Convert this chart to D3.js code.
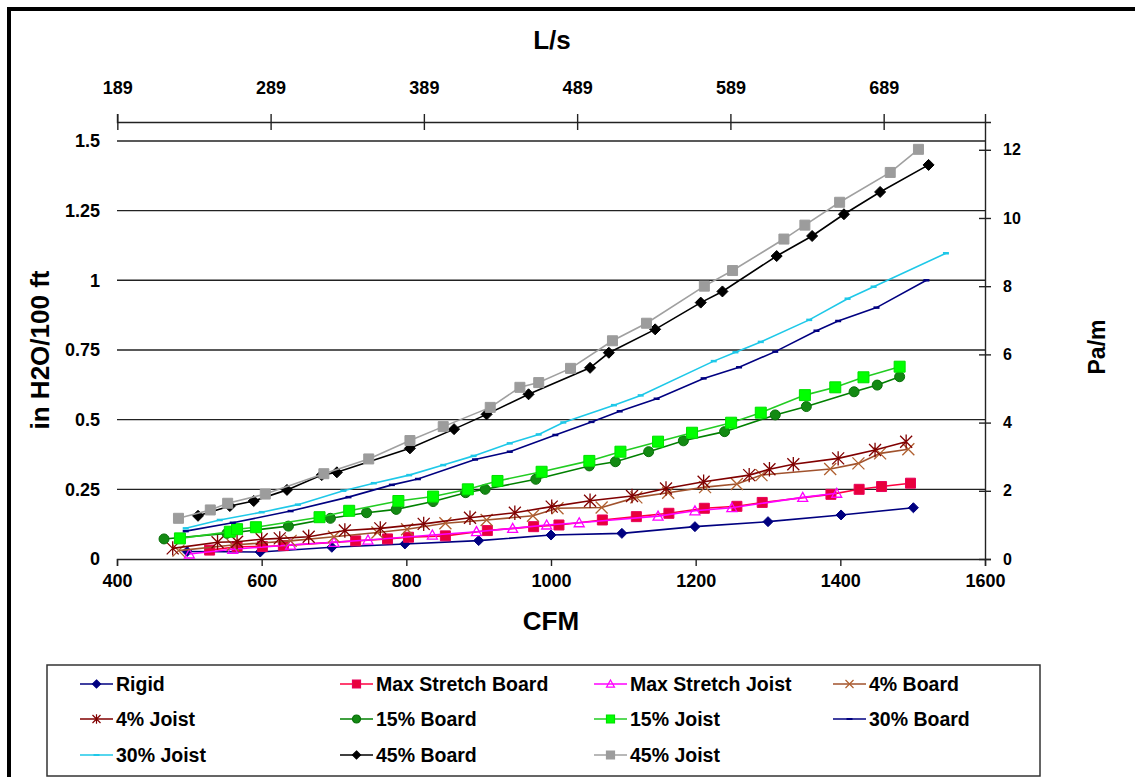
<!DOCTYPE html>
<html>
<head>
<meta charset="utf-8">
<script src="https://cdn.jsdelivr.net/npm/d3@7"></script>
<style>
  body { margin: 0; background: #fff; }
  svg { display: block; }
  .lbl { font-family: "Liberation Sans", Arial, sans-serif; font-weight: bold; }
</style>
</head>
<body>
<svg id="chart" width="1135" height="777"></svg>
<script>
// Friction loss (in. H2O per 100 ft) versus airflow (CFM) for each duct installation
const rigid            = [[497,0.027],[598,0.025],[697,0.042],[798,0.054],[900,0.066],[1000,0.086],[1098,0.092],[1199,0.116],[1300,0.134],[1401,0.158],[1501,0.184]];
const maxStretchBoard  = [[528,0.032],[566,0.044],[601,0.045],[630,0.048],[730,0.065],[774,0.072],[803,0.078],[854,0.083],[912,0.102],[976,0.116],[1011,0.122],[1071,0.140],[1118,0.152],[1163,0.164],[1212,0.182],[1257,0.189],[1292,0.203],[1387,0.232],[1426,0.250],[1457,0.260],[1497,0.272]];
const maxStretchJoist  = [[500,0.018],[560,0.035],[640,0.050],[700,0.060],[747,0.068],[836,0.086],[897,0.098],[947,0.110],[994,0.122],[1039,0.130],[1148,0.154],[1199,0.173],[1250,0.184],[1348,0.221],[1395,0.236]];
const board4           = [[485,0.030],[560,0.050],[640,0.065],[700,0.080],[760,0.095],[801,0.107],[854,0.128],[911,0.140],[975,0.155],[1009,0.182],[1070,0.185],[1118,0.221],[1162,0.238],[1213,0.258],[1257,0.269],[1291,0.301],[1386,0.323],[1425,0.343],[1455,0.379],[1494,0.394]];
const joist4           = [[477,0.038],[539,0.060],[566,0.062],[600,0.071],[625,0.074],[665,0.080],[715,0.102],[764,0.110],[824,0.126],[888,0.148],[950,0.166],[1001,0.188],[1054,0.209],[1112,0.226],[1159,0.253],[1211,0.277],[1274,0.301],[1302,0.322],[1335,0.340],[1397,0.361],[1448,0.391],[1491,0.421]];
const board15          = [[465,0.072],[552,0.092],[637,0.118],[695,0.146],[745,0.166],[786,0.178],[837,0.206],[882,0.238],[909,0.250],[979,0.286],[1053,0.334],[1089,0.349],[1135,0.385],[1183,0.424],[1240,0.457],[1310,0.517],[1353,0.547],[1419,0.600],[1451,0.624],[1482,0.654]];
const joist15          = [[487,0.074],[556,0.098],[566,0.107],[592,0.114],[680,0.150],[721,0.173],[789,0.208],[837,0.224],[885,0.250],[926,0.280],[987,0.313],[1053,0.352],[1096,0.385],[1148,0.421],[1195,0.453],[1249,0.489],[1290,0.525],[1351,0.588],[1393,0.616],[1432,0.652],[1482,0.690]];
const board30          = [[495,0.100],[560,0.130],[640,0.172],[720,0.222],[780,0.266],[816,0.287],[895,0.357],[943,0.385],[1006,0.445],[1056,0.492],[1095,0.530],[1146,0.575],[1211,0.648],[1260,0.688],[1310,0.744],[1367,0.819],[1397,0.854],[1450,0.902],[1519,1.000]];
const joist30          = [[495,0.110],[542,0.140],[600,0.168],[650,0.195],[713,0.245],[755,0.272],[804,0.301],[851,0.337],[893,0.370],[943,0.415],[983,0.447],[1017,0.490],[1087,0.552],[1124,0.587],[1225,0.710],[1255,0.742],[1290,0.779],[1357,0.858],[1410,0.934],[1446,0.977],[1546,1.097]];
const board45          = [[512,0.155],[556,0.190],[589,0.208],[635,0.248],[683,0.301],[704,0.311],[805,0.397],[866,0.466],[911,0.519],[969,0.591],[1054,0.686],[1080,0.740],[1144,0.824],[1207,0.920],[1237,0.960],[1312,1.087],[1361,1.159],[1405,1.237],[1455,1.317],[1522,1.414]];
const joist45          = [[485,0.146],[529,0.176],[553,0.200],[605,0.233],[686,0.306],[748,0.359],[805,0.425],[851,0.475],[916,0.544],[957,0.616],[983,0.633],[1027,0.684],[1085,0.783],[1132,0.846],[1212,0.979],[1251,1.035],[1322,1.148],[1351,1.198],[1399,1.280],[1469,1.387],[1508,1.470]];

// Axis tick values
const cfmTicks  = [400, 600, 800, 1000, 1200, 1400, 1600];
const inTicks   = [0, 0.25, 0.5, 0.75, 1, 1.25, 1.5];
const paTicks   = [0, 2, 4, 6, 8, 10, 12];
const lsTicks   = [189, 289, 389, 489, 589, 689];

const seriesNames = ["Rigid","Max Stretch Board","Max Stretch Joist","4% Board","4% Joist","15% Board","15% Joist","30% Board","30% Joist","45% Board","45% Joist"];

// unit conversions for the secondary axes
const LS_PER_CFM = 0.471947;
const PAM_PER_INH2O100FT = 8.1725;

const series = [
  {name: seriesNames[0],  data: rigid,           line: "#000080", marker: "diamond",  fill: "#000080", stroke: "#000080", size: 5},
  {name: seriesNames[1],  data: maxStretchBoard, line: "#FF0040", marker: "square",   fill: "#E8003C", stroke: "#E8005A", size: 5},
  {name: seriesNames[2],  data: maxStretchJoist, line: "#FF00FF", marker: "triangle", fill: "none",    stroke: "#FF00FF", size: 5},
  {name: seriesNames[3],  data: board4,          line: "#A0522D", marker: "x",        fill: "none",    stroke: "#B06030", size: 6},
  {name: seriesNames[4],  data: joist4,          line: "#800000", marker: "star",     fill: "none",    stroke: "#800000", size: 6},
  {name: seriesNames[5],  data: board15,         line: "#008000", marker: "circle",   fill: "#138A13", stroke: "#0A700A", size: 5},
  {name: seriesNames[6],  data: joist15,         line: "#22CC22", marker: "square",   fill: "#00FF00", stroke: "#00E000", size: 5.5},
  {name: seriesNames[7],  data: board30,         line: "#000080", marker: "dash",     fill: "none",    stroke: "#000080", size: 3},
  {name: seriesNames[8],  data: joist30,         line: "#1EC8E8", marker: "dash",     fill: "none",    stroke: "#1EC8E8", size: 3},
  {name: seriesNames[9],  data: board45,         line: "#000000", marker: "diamond",  fill: "#000000", stroke: "#000000", size: 5.5},
  {name: seriesNames[10], data: joist45,         line: "#A0A0A0", marker: "square",   fill: "#9C9C9C", stroke: "#9C9C9C", size: 5}
];

const svg = d3.select("#chart");

// plot frame
const plot = {left: 117, right: 985, top: 122, bottom: 559};
const x = d3.scaleLinear().domain([400, 1600]).range([plot.left, plot.right]);
const y = d3.scaleLinear().domain([0, 1.568]).range([plot.bottom, plot.top]);
const xTop = d3.scaleLinear().domain([400 * LS_PER_CFM, 1600 * LS_PER_CFM]).range([plot.left, plot.right]);
const yRight = d3.scaleLinear().domain([0, 1.568 * PAM_PER_INH2O100FT]).range([plot.bottom, plot.top]);

// outer frame of the figure
svg.append("rect").attr("x", 9).attr("y", 9).attr("width", 1140).attr("height", 790)
  .attr("fill", "#fff").attr("stroke", "#000").attr("stroke-width", 4);

// horizontal gridlines
svg.append("g").selectAll("line").data(inTicks.filter(d => d > 0)).join("line")
  .attr("x1", plot.left).attr("x2", plot.right)
  .attr("y1", d => y(d)).attr("y2", d => y(d))
  .attr("stroke", "#222").attr("stroke-width", 1.4);

// bottom axis
const gx = svg.append("g").attr("transform", `translate(0,${plot.bottom})`)
  .call(d3.axisBottom(x).tickValues(cfmTicks).tickSize(7).tickPadding(8).tickFormat(d3.format("d")));
// top axis (L/s)
const gt = svg.append("g").attr("transform", `translate(0,${plot.top})`)
  .call(d3.axisTop(xTop).tickValues(lsTicks).tickSize(8).tickPadding(20).tickFormat(d3.format("d")));
gt.selectAll(".tick line").attr("y2", 8).attr("y1", -8);
// left axis: labels only
const gl = svg.append("g").attr("transform", `translate(${plot.left},0)`)
  .call(d3.axisLeft(y).tickValues(inTicks).tickSize(0).tickPadding(17).tickFormat(d => d3.format("")(d)));
gl.select(".domain").remove();
// right axis (Pa/m)
const gr = svg.append("g").attr("transform", `translate(${plot.right},0)`)
  .call(d3.axisRight(yRight).tickValues(paTicks).tickSize(6).tickPadding(12).tickFormat(d3.format("d")));
gr.selectAll(".tick line").attr("x1", -6).attr("x2", 6);

[gx, gt, gr].forEach(g => {
  g.select(".domain").attr("stroke", "#222").attr("stroke-width", 1.4);
  g.selectAll(".tick line").attr("stroke", "#222").attr("stroke-width", 1.4);
});
[gx, gt, gl].forEach(g => g.selectAll("text").attr("class", "lbl").attr("font-size", 18).attr("fill", "#000"));
gr.selectAll("text").attr("class", "lbl").attr("font-size", 16).attr("fill", "#000");

// axis titles
svg.append("text").attr("class", "lbl").attr("x", 552).attr("y", 49).attr("text-anchor", "middle")
  .attr("font-size", 26).text("L/s");
svg.append("text").attr("class", "lbl").attr("x", 551).attr("y", 630).attr("text-anchor", "middle")
  .attr("font-size", 26).text("CFM");
svg.append("text").attr("class", "lbl").attr("transform", "translate(49,350) rotate(-90)")
  .attr("text-anchor", "middle").attr("font-size", 26).text("in H2O/100 ft");
svg.append("text").attr("class", "lbl").attr("transform", "translate(1105,347) rotate(-90)")
  .attr("text-anchor", "middle").attr("font-size", 23).text("Pa/m");

// marker shapes
function markerPath(kind, s) {
  switch (kind) {
    case "diamond":  return `M0,${-s}L${s},0L0,${s}L${-s},0Z`;
    case "square":   return `M${-s},${-s}H${s}V${s}H${-s}Z`;
    case "triangle": return `M0,${-s}L${s},${s * 0.8}L${-s},${s * 0.8}Z`;
    case "circle":   return d3.symbol(d3.symbolCircle, Math.PI * s * s)();
    case "x":        return `M${-s},${-s}L${s},${s}M${-s},${s}L${s},${-s}`;
    case "star":     return `M${-s},${-s}L${s},${s}M${-s},${s}L${s},${-s}M0,${-s * 1.2}V${s * 1.2}`;
    case "dash":     return `M${-s},0H${s}`;
  }
}

const line = d3.line().x(d => x(d[0])).y(d => y(d[1]));
const gSeries = svg.append("g");
series.forEach(s => {
  const g = gSeries.append("g");
  g.append("path").attr("d", line(s.data)).attr("fill", "none")
    .attr("stroke", s.line).attr("stroke-width", 1.6);
  g.selectAll("path.m").data(s.data).join("path").attr("class", "m")
    .attr("transform", d => `translate(${x(d[0])},${y(d[1])})`)
    .attr("d", markerPath(s.marker, s.size))
    .attr("fill", s.fill).attr("stroke", s.stroke)
    .attr("stroke-width", s.marker === "dash" ? 2.5 : (s.fill === "none" ? 1.3 : 1));
});

// legend
const legend = svg.append("g");
legend.append("rect").attr("x", 47).attr("y", 665).attr("width", 993).attr("height", 111)
  .attr("fill", "#fff").attr("stroke", "#333").attr("stroke-width", 1.5);
const colX = [80, 340, 594, 833];
const rowY = [684, 719, 755];
series.forEach((s, i) => {
  const cx = colX[i % 4], cy = rowY[Math.floor(i / 4)];
  const item = legend.append("g").attr("transform", `translate(${cx},${cy})`);
  item.append("line").attr("x1", 0).attr("x2", 33).attr("stroke", s.line).attr("stroke-width", 1.6);
  item.append("path").attr("transform", "translate(16.5,0)")
    .attr("d", markerPath(s.marker, Math.min(s.size, 4)))
    .attr("fill", s.fill).attr("stroke", s.stroke).attr("stroke-width", s.marker === "dash" ? 2 : 1.2);
  item.append("text").attr("class", "lbl").attr("x", 36).attr("y", 7)
    .attr("font-size", 19.5).text(s.name);
});
</script>
</body>
</html>
